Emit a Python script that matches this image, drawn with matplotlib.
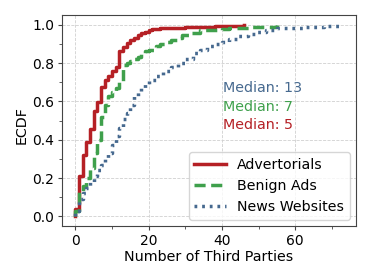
import numpy as np
import matplotlib
matplotlib.use("Agg")
import matplotlib.pyplot as plt
from matplotlib.ticker import MultipleLocator

# Data: number of third parties (unique values) and how many samples had each value
adv_values = [0, 1, 2, 3, 4, 5, 6, 7, 8, 9, 10, 11, 12, 13, 14, 15, 16, 17, 18, 19, 20, 21,
              23, 25, 30, 38, 46]
adv_counts = [8, 34, 22, 14, 13, 19, 9, 16, 7, 4, 6, 4, 17, 4, 4, 3, 2, 3, 2, 1, 2, 1,
              1, 1, 1, 1, 1]

ben_values = [0, 1, 2, 3, 4, 5, 6, 7, 8, 9, 10, 11, 12, 13, 14, 15, 16, 17, 18, 19, 20,
              22, 23, 25, 26, 28, 29, 31, 34, 40, 42, 48, 55]
ben_counts = [6, 20, 6, 8, 10, 16, 14, 24, 12, 10, 4, 4, 6, 18, 2, 2, 2, 2, 4, 2, 2,
              4, 2, 2, 2, 2, 3, 2, 3, 1, 1, 2, 2]

news_values = [0, 1, 2, 3, 4, 5, 6, 7, 8, 9, 10, 11, 12, 13, 14, 15, 16, 17, 18, 19, 20,
               22, 24, 26, 28, 30, 32, 34, 36, 38, 40, 42, 44, 47, 49, 52, 55, 57, 62, 68, 72]
news_counts = [6, 12, 6, 6, 6, 6, 6, 6, 6, 6, 8, 10, 8, 10, 6, 8, 10, 4, 4, 4, 4,
               4, 6, 4, 4, 4, 6, 4, 4, 2, 2, 3, 3, 2, 2, 2, 2, 1, 1, 1, 1]

labels = ["Advertorials", "Benign Ads", "News Websites"]
medians = [5, 7, 13]

c_red = "#B52025"
c_green = "#3FA04C"
c_blue = "#46698F"

adv = np.repeat(adv_values, adv_counts)
ben = np.repeat(ben_values, ben_counts)
news = np.repeat(news_values, news_counts)

fig = plt.figure(figsize=(3.72, 2.79), dpi=100)
ax = fig.add_axes([0.167, 0.19, 0.79, 0.756])

ax.ecdf(adv, color=c_red, lw=2.5, ls="-", label=labels[0])
ax.ecdf(ben, color=c_green, lw=2.5, ls=(0, (3.2, 1.6)), label=labels[1])
ax.ecdf(news, color=c_blue, lw=2.5, ls=(0, (0.8, 1.4)), label=labels[2])

ax.set_xlim(-3.6, 76.6)
ax.set_ylim(-0.05, 1.05)
ax.xaxis.set_major_locator(MultipleLocator(20))
ax.xaxis.set_minor_locator(MultipleLocator(10))
ax.yaxis.set_major_locator(MultipleLocator(0.2))
ax.yaxis.set_minor_locator(MultipleLocator(0.1))
ax.grid(True, which="major", ls="--", lw=0.6, color="#d0d0d0")
ax.set_axisbelow(True)
ax.tick_params(which="major", labelsize=10, length=3, pad=2.5, color="#444444")
ax.tick_params(which="minor", length=2, color="#444444")
for s in ax.spines.values():
    s.set_color("#444444")

ax.set_xlabel("Number of Third Parties", fontsize=10.3, labelpad=2)
ax.set_ylabel("ECDF", fontsize=10.3)
ax.yaxis.set_label_coords(-0.115, 0.48)

ax.text(40.3, 0.672, f"Median: {medians[2]}", color=c_blue, fontsize=10.3, va="center")
ax.text(40.3, 0.573, f"Median: {medians[1]}", color=c_green, fontsize=10.3, va="center")
ax.text(40.3, 0.479, f"Median: {medians[0]}", color=c_red, fontsize=10.3, va="center")

ax.legend(loc="lower right", fontsize=10.2, handlelength=2.2, borderaxespad=0.45)

fig.savefig("out.png", dpi=100)
